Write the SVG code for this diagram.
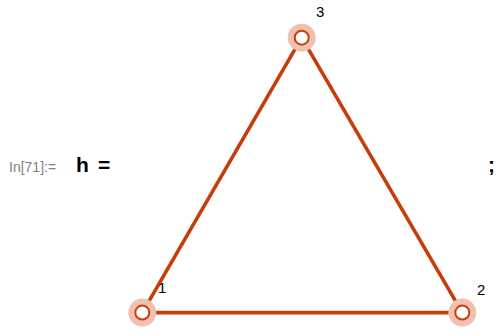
<svg xmlns="http://www.w3.org/2000/svg" width="501" height="336" viewBox="0 0 501 336">
<style>
.edge{stroke:#C63D0C;stroke-width:3.6;fill:none;stroke-linecap:round}
.halo{fill:#F2C0B0}
.v{fill:#fff;stroke:#C8400E;stroke-width:2}
.lbl{font-family:"Liberation Sans",Arial,sans-serif;font-size:15px;fill:#000}
.in{font-family:"Liberation Sans",Arial,sans-serif;font-size:14px;fill:#808080}
.big{font-family:"Liberation Sans",Arial,sans-serif;font-size:21px;font-weight:bold;fill:#000}
</style>
<rect width="501" height="336" fill="#fff"/>
<text class="in" x="9" y="172">In[71]:=</text>
<text class="big" x="76" y="172">h</text>
<text class="big" x="98" y="172">=</text>
<text class="big" x="488" y="172">;</text>
<g id="connectors">
<line class="edge" x1="142.3" y1="312.6" x2="301.7" y2="37.7"/>
<line class="edge" x1="142.3" y1="312.6" x2="462.3" y2="312.6"/>
<line class="edge" x1="462.3" y1="312.6" x2="301.7" y2="37.7"/>
</g>
<g id="node1">
<circle class="halo" cx="142.3" cy="312.6" r="14"/>
<circle class="v" cx="142.3" cy="312.6" r="7"/>
<text class="lbl" x="158" y="293">1</text>
</g>
<g id="node2">
<circle class="halo" cx="462.3" cy="312.6" r="14"/>
<circle class="v" cx="462.3" cy="312.6" r="7"/>
<text class="lbl" x="477" y="295">2</text>
</g>
<g id="node3">
<circle class="halo" cx="301.7" cy="37.7" r="14"/>
<circle class="v" cx="301.7" cy="37.7" r="7"/>
<text class="lbl" x="316" y="17">3</text>
</g>
</svg>
